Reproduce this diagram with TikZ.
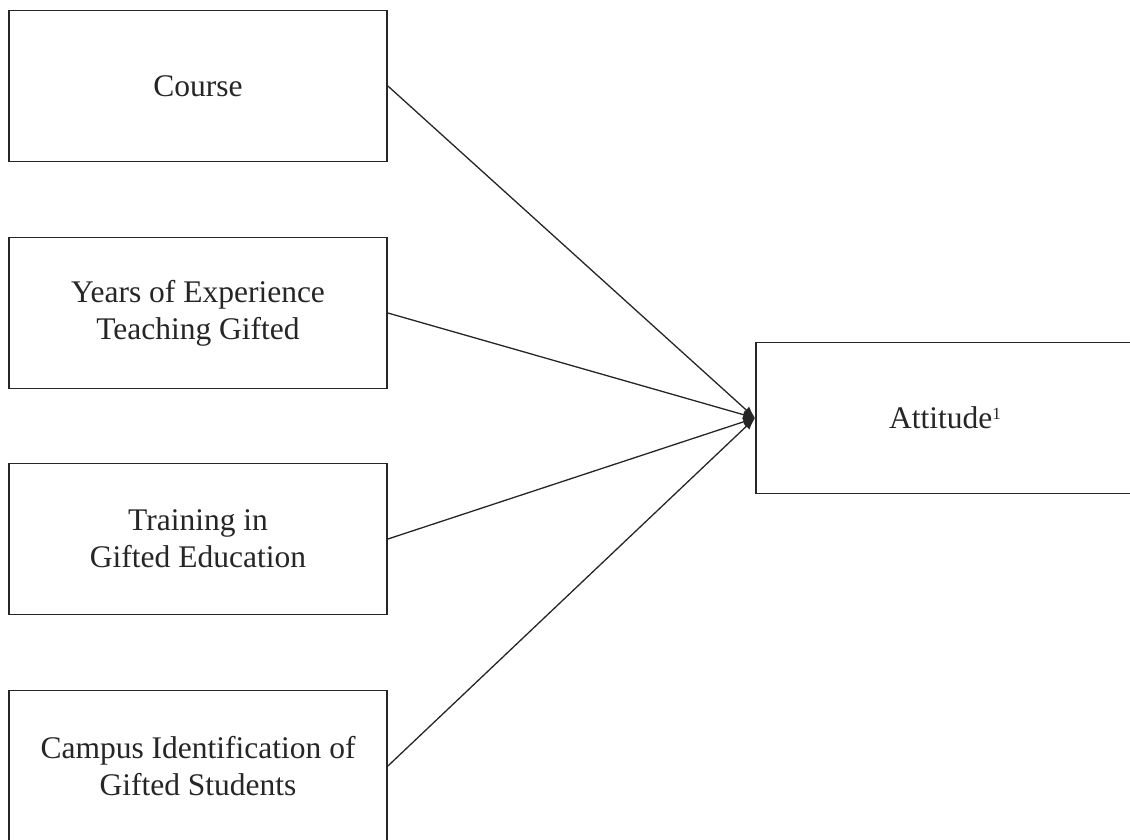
\documentclass[tikz,border=0pt]{standalone}
\usepackage{fontspec}
\setmainfont{Liberation Serif}
\usetikzlibrary{arrows.meta}
\begin{document}
\begin{tikzpicture}[x=1pt,y=-1pt,
  varbox/.style={draw=black!85,line width=1.8pt,minimum width=378pt,minimum height=151pt,
    align=center,inner sep=0pt,font=\fontsize{31.5}{37}\selectfont,text=black!85},
  link/.style={draw=black!85,line width=1.3pt,-{Latex[length=12pt,width=9pt]}}]
\useasboundingbox (0,0) rectangle (1130,839);
\clip (0,0) rectangle (1130,839);
\fill[white] (0,0) rectangle (1130,839);
\node[varbox] (course) at (198,86) {Course};
\node[varbox] (years) at (198,313) {Years of Experience\\Teaching Gifted};
\node[varbox] (train) at (198,539) {Training in\\Gifted Education};
\node[varbox] (campus) at (198,766) {Campus Identification of\\Gifted Students};
\node[varbox] (att) at (945,418) {Attitude\raisebox{9pt}{\fontsize{17}{17}\selectfont 1}};
\coordinate (hub) at (att.west);
\draw[link] (course.east) -- (hub);
\draw[link] (years.east) -- (hub);
\draw[link] (train.east) -- (hub);
\draw[link] (campus.east) -- (hub);
\end{tikzpicture}
\end{document}
